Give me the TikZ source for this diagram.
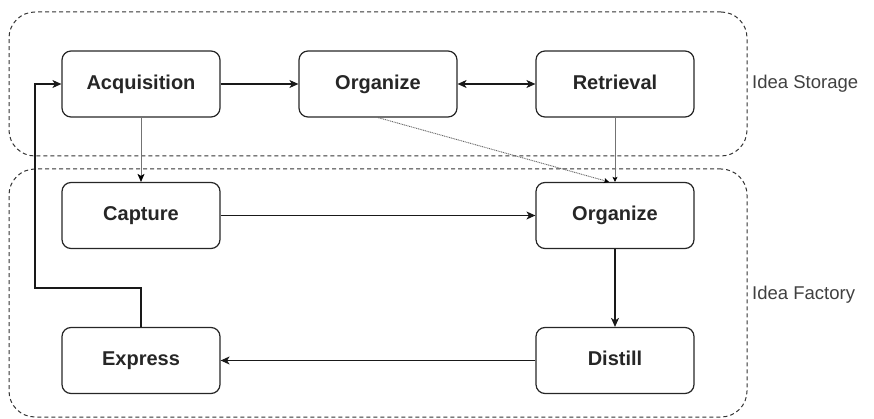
\documentclass[tikz,border=0pt]{standalone}
\usepackage{fontspec}
\setmainfont{Liberation Sans}
\usetikzlibrary{arrows.meta}
\begin{document}
\begin{tikzpicture}[x=1pt,y=-1pt,
  box/.style={draw=black!85, line width=1.2pt, rounded corners=9pt, minimum width=158pt, minimum height=66pt, inner sep=0pt, text height=14.5pt, text depth=4pt, font=\fontsize{20}{22}\selectfont\bfseries, text=black!85},
  grp/.style={draw=black!80, dash pattern=on 4pt off 3pt, line width=1pt, rounded corners=26pt, inner sep=0pt},
  lbl/.style={anchor=west, inner sep=0pt, text=black!75, font=\fontsize{18.5}{20}\selectfont},
  tip/.style={-{Stealth[length=9pt,width=8pt,inset=2.5pt]}},
  arr/.style={line width=1.1pt, draw=black!90, tip},
  darr/.style={line width=1.1pt, draw=black!90, {Stealth[length=9pt,width=8pt,inset=2.5pt]}-{Stealth[length=9pt,width=8pt,inset=2.5pt]}},
  thinarr/.style={line width=0.7pt, draw=black!55, -{Stealth[length=8pt,width=7pt,inset=2pt,black]}},
  smallarr/.style={line width=0.7pt, draw=black!55, -{Stealth[length=5pt,width=5pt,inset=1pt,black]}},
  dotarr/.style={line width=0.9pt, draw=black!60, dash pattern=on 1pt off 0.8pt, -{Stealth[length=5pt,width=5pt,inset=1pt,black]}}
]
\useasboundingbox (0,0) rectangle (874,419);
\node[grp, minimum width=738pt, minimum height=144pt] (storage) at (378,84) {};
\node[grp, minimum width=738pt, minimum height=248pt] (factory) at (378,293) {};
\node[lbl] (lstorage) at (752,84) {Idea Storage};
\node[lbl] (lfactory) at (752,295) {Idea Factory};

\node[box] (acq) at (141,84) {Acquisition};
\node[box] (org1) at (378,84) {Organize};
\node[box] (ret) at (615,84) {Retrieval};
\node[box] (cap) at (141,215.5) {Capture};
\node[box] (org2) at (615,215.5) {Organize};
\node[box] (exp) at (141,360.5) {Express};
\node[box] (dis) at (615,360.5) {Distill};
\coordinate (bend) at (35,288);

\draw[arr] (acq) -- (org1);
\draw[darr] (org1) -- (ret);
\draw[thinarr] (acq.south) -- (cap.north);
\draw[smallarr] (ret.south) -- (org2.north);
\draw[dotarr] (org1.south) -- ([xshift=-6pt]org2.north);
\draw[arr] (cap) -- (org2);
\draw[arr] (org2) -- (dis);
\draw[arr] (dis) -- (exp);
\draw[arr] (exp.north) |- (bend) |- (acq.west);
\end{tikzpicture}
\end{document}
